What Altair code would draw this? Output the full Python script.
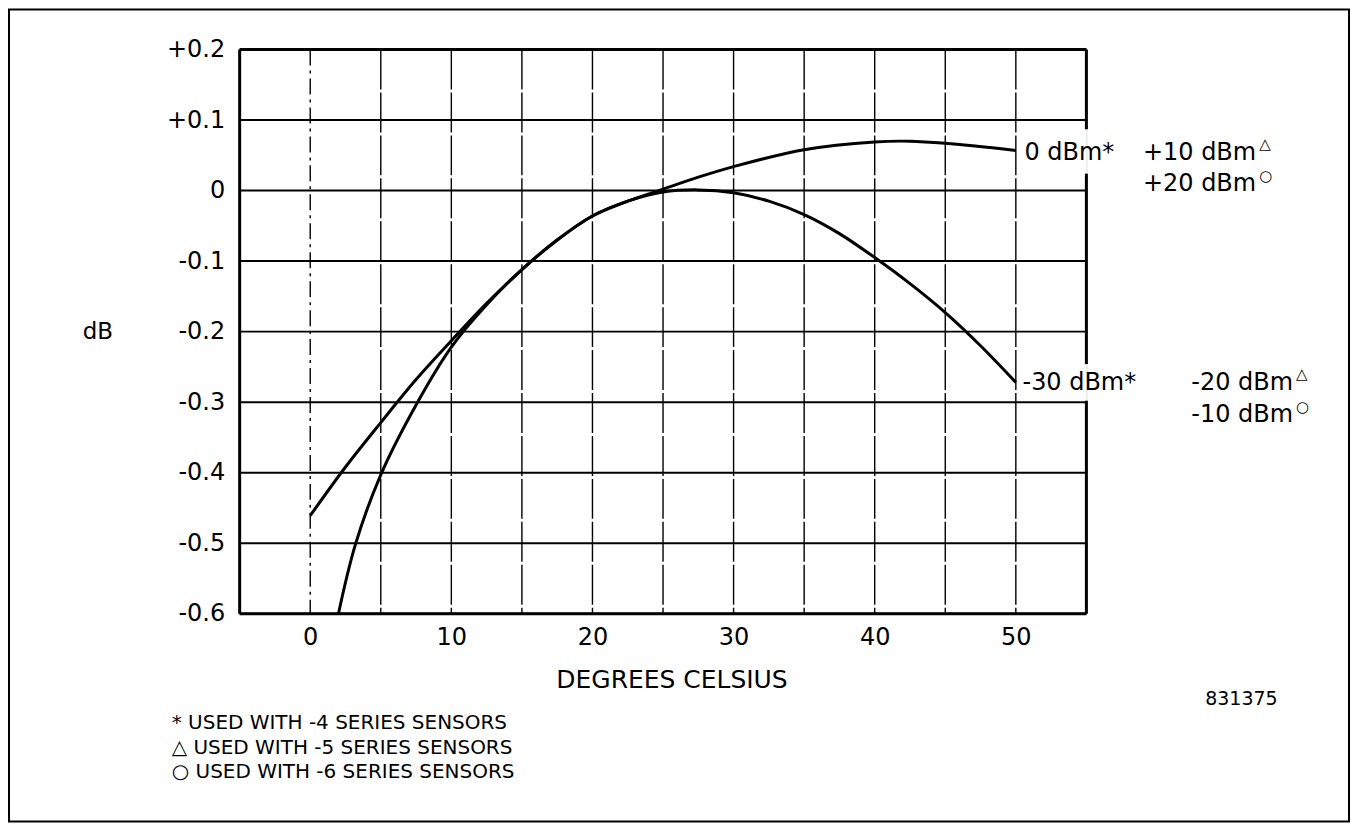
import altair as alt
import pandas as pd

# ---- data ----
temp_hi = [0, 2.5, 5, 7.5, 10, 12.5, 15, 17.5, 20, 22.5, 25, 27.5, 30, 35, 40, 42.5, 45, 50]
db_hi = [-0.461, -0.392, -0.329, -0.268, -0.213, -0.16, -0.112, -0.07, -0.036, -0.015,
         0.002, 0.019, 0.034, 0.058, 0.069, 0.070, 0.067, 0.057]

temp_lo = [2, 3.2, 5, 7.5, 10, 12.5, 15, 17.5, 20, 22.5, 25, 27.5, 30, 32.5, 35, 37.5,
           40, 42.5, 45, 47.5, 50]
db_lo = [-0.6, -0.502, -0.403, -0.304, -0.222, -0.162, -0.112, -0.07, -0.036, -0.015,
         -0.002, 0.001, -0.003, -0.015, -0.034, -0.061, -0.095, -0.132, -0.173, -0.22, -0.272]

series_names = ["0 dBm", "-30 dBm"]

x_ticks = [0, 10, 20, 30, 40, 50]
x_grid = [0, 5, 10, 15, 20, 25, 30, 35, 40, 45, 50]
y_ticks = [0.2, 0.1, 0.0, -0.1, -0.2, -0.3, -0.4, -0.5, -0.6]
x_dom = [-5, 55]
y_dom = [-0.6, 0.2]

# right frame segments (gaps where labels sit)
frame_seg_top = [0.2, 0.087, 0.024, -0.246, -0.298]
frame_seg_bot = [0.087, 0.024, -0.246, -0.298, -0.6]
frame_keep = [True, False, True, False, True]

footnotes = ["* USED WITH -4 SERIES SENSORS",
             "\u25b3 USED WITH -5 SERIES SENSORS",
             "\u25cb USED WITH -6 SERIES SENSORS"]

FONT = "DejaVu Sans"

curves = pd.DataFrame(
    {"t": temp_hi + temp_lo,
     "db": db_hi + db_lo,
     "s": [series_names[0]] * len(temp_hi) + [series_names[1]] * len(temp_lo)}
)

xs = alt.Scale(domain=x_dom, nice=False, zero=False)
ys = alt.Scale(domain=y_dom, nice=False, zero=False)

label_expr_y = ("datum.value > 0.0001 ? '+' + format(datum.value, '.1f') : "
                "(datum.value < -0.0001 ? '-' + format(-datum.value, '.1f') : '0')")

# axes (labels only)
axes = alt.Chart(pd.DataFrame({"t": [x_dom[0]], "db": [y_dom[0]]})).mark_point(opacity=0).encode(
    x=alt.X("t:Q", scale=xs, axis=alt.Axis(values=x_ticks, title=None, domain=False, ticks=False,
                                           grid=False, labelFont=FONT, labelFontSize=24,
                                           labelColor="black", labelPadding=12)),
    y=alt.Y("db:Q", scale=ys, axis=alt.Axis(values=y_ticks, title=None, domain=False, ticks=False,
                                            grid=False, labelFont=FONT, labelFontSize=24,
                                            labelColor="black", labelPadding=15,
                                            labelExpr=label_expr_y)),
)

# horizontal grid lines
hgrid = alt.Chart(pd.DataFrame({"y": y_ticks})).mark_rule(color="black", strokeWidth=2).encode(
    y=alt.Y("y:Q", scale=ys), x=alt.value(0), x2=alt.value(848)
)

# vertical grid lines
vgrid_df = pd.DataFrame({"x": x_grid[1:]})
vgrid = alt.Chart(vgrid_df).mark_rule(color="black", strokeWidth=1.4, strokeDash=[40, 3]).encode(
    x=alt.X("x:Q", scale=xs), y=alt.value(0), y2=alt.value(565)
)
vgrid0 = alt.Chart(pd.DataFrame({"x": x_grid[:1]})).mark_rule(
    color="black", strokeWidth=1.4, strokeDash=[16, 5, 3, 5]).encode(
    x=alt.X("x:Q", scale=xs), y=alt.value(0), y2=alt.value(565)
)

# plot frame
left_frame = alt.Chart(pd.DataFrame({"x": [x_dom[0]]})).mark_rule(color="black", strokeWidth=3).encode(
    x=alt.X("x:Q", scale=xs), y=alt.value(0), y2=alt.value(565)
)
tb_frame = alt.Chart(pd.DataFrame({"y": y_dom})).mark_rule(color="black", strokeWidth=3).encode(
    y=alt.Y("y:Q", scale=ys), x=alt.value(0), x2=alt.value(848)
)
seg_df = pd.DataFrame({"y1": frame_seg_top, "y2": frame_seg_bot, "k": frame_keep})
seg_df = seg_df[seg_df["k"]]
seg_df["x"] = x_dom[1]
right_frame = alt.Chart(seg_df).mark_rule(color="black", strokeWidth=3).encode(
    x=alt.X("x:Q", scale=xs), y=alt.Y("y1:Q", scale=ys), y2="y2:Q"
)

lines = alt.Chart(curves).mark_line(color="black", strokeWidth=3, interpolate="catmull-rom",
                                    clip=True).encode(
    x=alt.X("t:Q", scale=xs), y=alt.Y("db:Q", scale=ys), detail="s:N"
)

one = pd.DataFrame({"a": [0]})


def txt(text, x, y, size=22, align="left", baseline="middle"):
    return alt.Chart(one).mark_text(text=text, font=FONT, fontSize=size, align=align,
                                    baseline=baseline, color="black").encode(
        x=alt.value(x), y=alt.value(y))


annotations = [
    txt("0 dBm*", 786, 104, 24),
    txt("+10 dBm", 1018, 104, 24, align="right"),
    txt("\u25b3", 1021, 95, 15),
    txt("+20 dBm", 1018, 135, 24, align="right"),
    txt("\u25cb", 1021, 127, 15),
    txt("-30 dBm*", 784, 334, 24),
    txt("-20 dBm", 1055, 334, 24, align="right"),
    txt("\u25b3", 1058, 325, 15),
    txt("-10 dBm", 1055, 366, 24, align="right"),
    txt("\u25cb", 1058, 358, 15),
    txt("dB", -142, 283, 23, align="center"),
    txt("DEGREES CELSIUS", 433, 631, 25, align="center"),
    txt("831375", 967, 650, 19),
    txt(footnotes[0], -68, 674, 20),
    txt(footnotes[1], -68, 700, 20),
    txt(footnotes[2], -68, 724, 20),
]

outer = alt.Chart(one).mark_rect(fill=None, stroke="black", strokeWidth=2).encode(
    x=alt.value(-231), x2=alt.value(1111), y=alt.value(-40), y2=alt.value(773)
)

chart = alt.layer(axes, hgrid, vgrid, vgrid0, left_frame, tb_frame, right_frame, lines,
                  outer, *annotations).properties(
    width=848, height=565,
    padding={"left": 232, "top": 41, "right": 264, "bottom": 209},
    autosize=alt.AutoSizeParams(type="none"),
).configure_view(stroke=None).configure(background="white")

chart.save("out.html", embed_options={"renderer": "svg", "actions": False})
